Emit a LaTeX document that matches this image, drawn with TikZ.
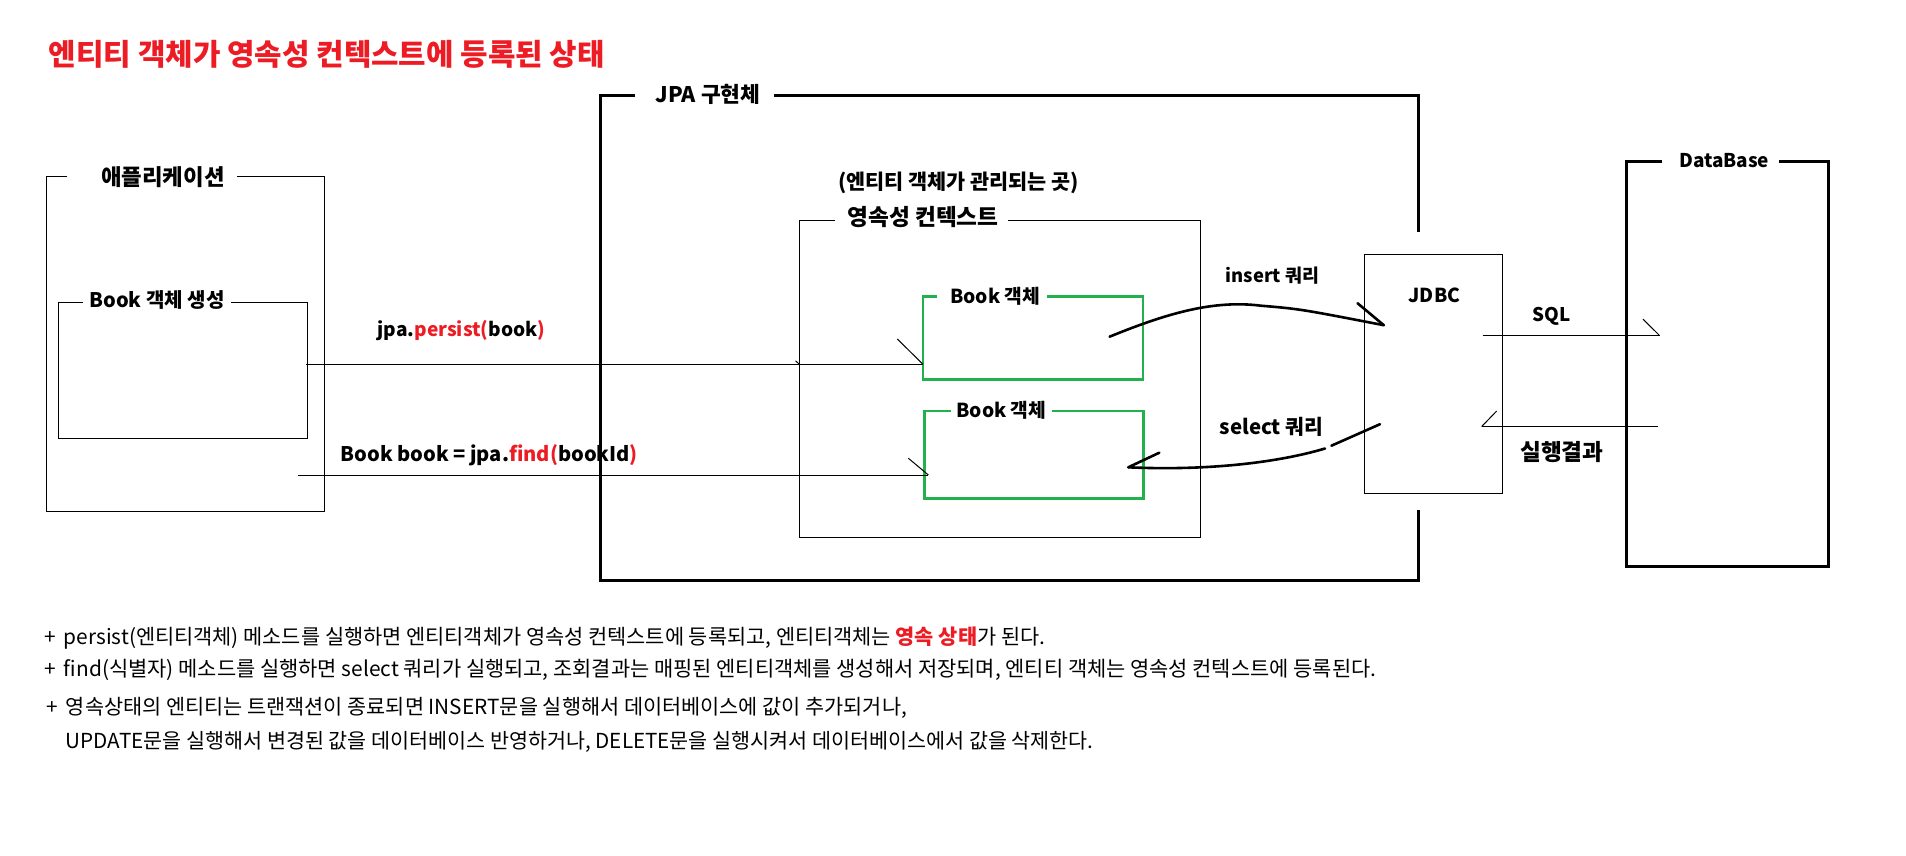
\documentclass[tikz,border=0pt]{standalone}
\usepackage{graphicx}
\usepackage{fontspec}
\setmainfont{Noto Sans CJK KR}
\definecolor{pred}{HTML}{ED1C24}
\definecolor{pgreen}{HTML}{22B14C}
\newcommand\fitw[2]{\resizebox{#1pt}{!}{#2}}
\begin{document}
\begin{tikzpicture}[x=1pt,y=-1pt,
  lbl/.style={font=\fontsize{20}{20}\selectfont\bfseries, inner sep=0pt, anchor=west},
  ttl/.style={font=\fontsize{28}{28}\selectfont\bfseries, text=pred, inner sep=0pt, anchor=west},
  note/.style={font=\fontsize{18}{18}\selectfont, inner sep=0pt, anchor=west},
  thinbox/.style={draw=black, line width=1pt},
  thickbox/.style={draw=black, line width=3pt},
  greenbox/.style={draw=pgreen, line width=2.8pt},
  conn/.style={draw=black, line width=1pt},
  bold conn/.style={draw=black, line width=2.6pt, line cap=round},
]
\useasboundingbox (0,0) rectangle (1906,856);
\fill[white] (0,0) rectangle (1906,856);

% title
\node[ttl] (title) at (48.7,54.2) {\fitw{556}{엔티티 객체가 영속성 컨텍스트에 등록된 상태}};

% application box
\coordinate (appNW) at (46,176);
\coordinate (appSE) at (324.5,511);
\draw[thinbox] (67,176) -- (appNW) |- (appSE) |- (237,176);
\node[lbl] (appL) at (101,176.7) {\fitw{123.5}{애플리케이션}};

% Book create box
\coordinate (bcNW) at (58.7,302);
\coordinate (bcSE) at (307.6,438.3);
\draw[thinbox] (83,302) -- (bcNW) |- (bcSE) |- (230.6,302);
\node[lbl] (bcL) at (89.3,300) {\fitw{135.2}{Book 객체 생성}};

% JPA box
\coordinate (jpaNW) at (600.5,95.7);
\coordinate (jpaSE) at (1418.3,580);
\draw[thickbox] (635,95.7) -- (jpaNW) |- (jpaSE) -- (1418.3,510);
\draw[thickbox] (774,95.7) -- (1418.3,95.7) -- (1418.3,232);
\node[lbl] (jpaL) at (655.6,94) {\fitw{104.6}{JPA 구현체}};

% persistence context
\node[lbl] (pcNote) at (838,183) {\fitw{241}{(엔티티 객체가 관리되는 곳)}};
\coordinate (pcNW) at (799.5,220.7);
\coordinate (pcSE) at (1200.8,537);
\draw[thinbox] (834.7,220.7) -- (pcNW) |- (pcSE) |- (1008,220.7);
\node[lbl] (pcL) at (847.2,216.7) {\fitw{151.3}{영속성 컨텍스트}};

% green boxes
\coordinate (g1NW) at (923,296.7);
\coordinate (g1SE) at (1143,379.3);
\draw[greenbox] (936.7,296.7) -- (g1NW) |- (g1SE) |- (1046.6,296.7);
\node[lbl] (g1L) at (950,296) {\fitw{90}{Book 객체}};
\coordinate (g2NW) at (924.7,411);
\coordinate (g2SE) at (1143.6,498.3);
\draw[greenbox] (950.8,411) -- (g2NW) |- (g2SE) |- (1052,411);
\node[lbl] (g2L) at (956.2,410.7) {\fitw{90}{Book 객체}};

% JDBC
\node[thinbox, minimum width=137.3pt, minimum height=238.7pt, inner sep=0pt, anchor=north west] (jdbc) at (1364.3,254.3) {};
\node[lbl] (jdbcL) at (1408.5,295.3) {\fitw{51.5}{JDBC}};

% DataBase
\coordinate (dbNW) at (1626.5,161.3);
\coordinate (dbSE) at (1828.2,566);
\draw[thickbox] (1661.7,161.3) -- (dbNW) |- (dbSE) |- (1779,161.3);
\node[lbl] (dbL) at (1679,160.7) {\fitw{90}{DataBase}};

% persist connector
\coordinate (pS) at (306,364.3);
\coordinate (pE) at (923,364.3);
\draw[conn] (pS) -- (pE);
\draw[conn] (pE) -- ++(-25.7,-25.3);
\draw[conn] (799.5,364.3) -- ++(-4,-3.5);
\node[lbl] (persistL) at (377.5,330.8) {\fitw{167.5}{jpa.\textcolor{pred}{persist(}book\textcolor{pred}{)}}};

% find connector
\coordinate (fS) at (298,475);
\coordinate (fE) at (928.4,475);
\draw[conn] (fS) -- (fE);
\draw[conn] (fE) -- ++(-20,-16.7);
\node[lbl] (findL) at (340.3,455) {\fitw{297.5}{Book book = jpa.\textcolor{pred}{find(}bookId\textcolor{pred}{)}}};

% insert curve
\coordinate (iS) at (1109.6,336.7);
\coordinate (iM) at (1261,305.7);
\coordinate (iE) at (1383.8,325.2);
\draw[bold conn] (iS) .. controls (1170,312) and (1215,300) .. (iM) .. controls (1300,309) .. (iE);
\draw[bold conn] (iE) -- ++(-26.3,-22);
\node[lbl] (insL) at (1225.7,276) {\fitw{93.3}{insert 쿼리}};

% select curve
\coordinate (sS) at (1380,424.2);
\coordinate (sG1) at (1331.4,445.7);
\coordinate (sG2) at (1325,448.5);
\coordinate (sE) at (1128.3,467.3);
\draw[bold conn] (sS) -- (sG1);
\draw[bold conn] (sG2) .. controls (1280,462) and (1210,471) .. (sE);
\draw[bold conn] (sE) -- ++(31,-14.6);
\node[lbl] (selL) at (1219.5,426.7) {\fitw{103.6}{select 쿼리}};

% SQL
\coordinate (qS) at (1482.7,335.5);
\coordinate (qE) at (1659.5,335.5);
\draw[conn] (qS) -- (qE);
\draw[conn] (qE) -- ++(-16.5,-16.3);
\node[lbl] (sqlL) at (1532.7,316.3) {\fitw{38}{SQL}};

% result
\coordinate (rS) at (1657.7,426.5);
\coordinate (rE) at (1481.7,426.5);
\draw[conn] (rS) -- (rE);
\draw[conn] (rE) -- ++(15,-15.5);
\node[lbl] (resL) at (1520,452) {\fitw{83.3}{실행결과}};

% notes
\node[note] (n1) at (44.6,638.3) {\fitw{1000.4}{\makebox[16.5pt][l]{+}persist(엔티티객체) 메소드를 실행하면 엔티티객체가 영속성 컨텍스트에 등록되고, 엔티티객체는 \textcolor{pred}{\bfseries 영속 상태}가 된다.}};
\node[note] (n2) at (44.6,670) {\fitw{1331.4}{\makebox[16.5pt][l]{+}find(식별자) 메소드를 실행하면 select 쿼리가 실행되고, 조회결과는 매핑된 엔티티객체를 생성해서 저장되며, 엔티티 객체는 영속성 컨텍스트에 등록된다.}};
\node[note] (n3) at (46.7,708.3) {\fitw{860}{\makebox[16.5pt][l]{+}영속상태의 엔티티는 트랜잭션이 종료되면 INSERT문을 실행해서 데이터베이스에 값이 추가되거나,}};
\node[note] (n4) at (65.7,741.7) {\fitw{1027.6}{UPDATE문을 실행해서 변경된 값을 데이터베이스 반영하거나, DELETE문을 실행시켜서 데이터베이스에서 값을 삭제한다.}};
\end{tikzpicture}
\end{document}
